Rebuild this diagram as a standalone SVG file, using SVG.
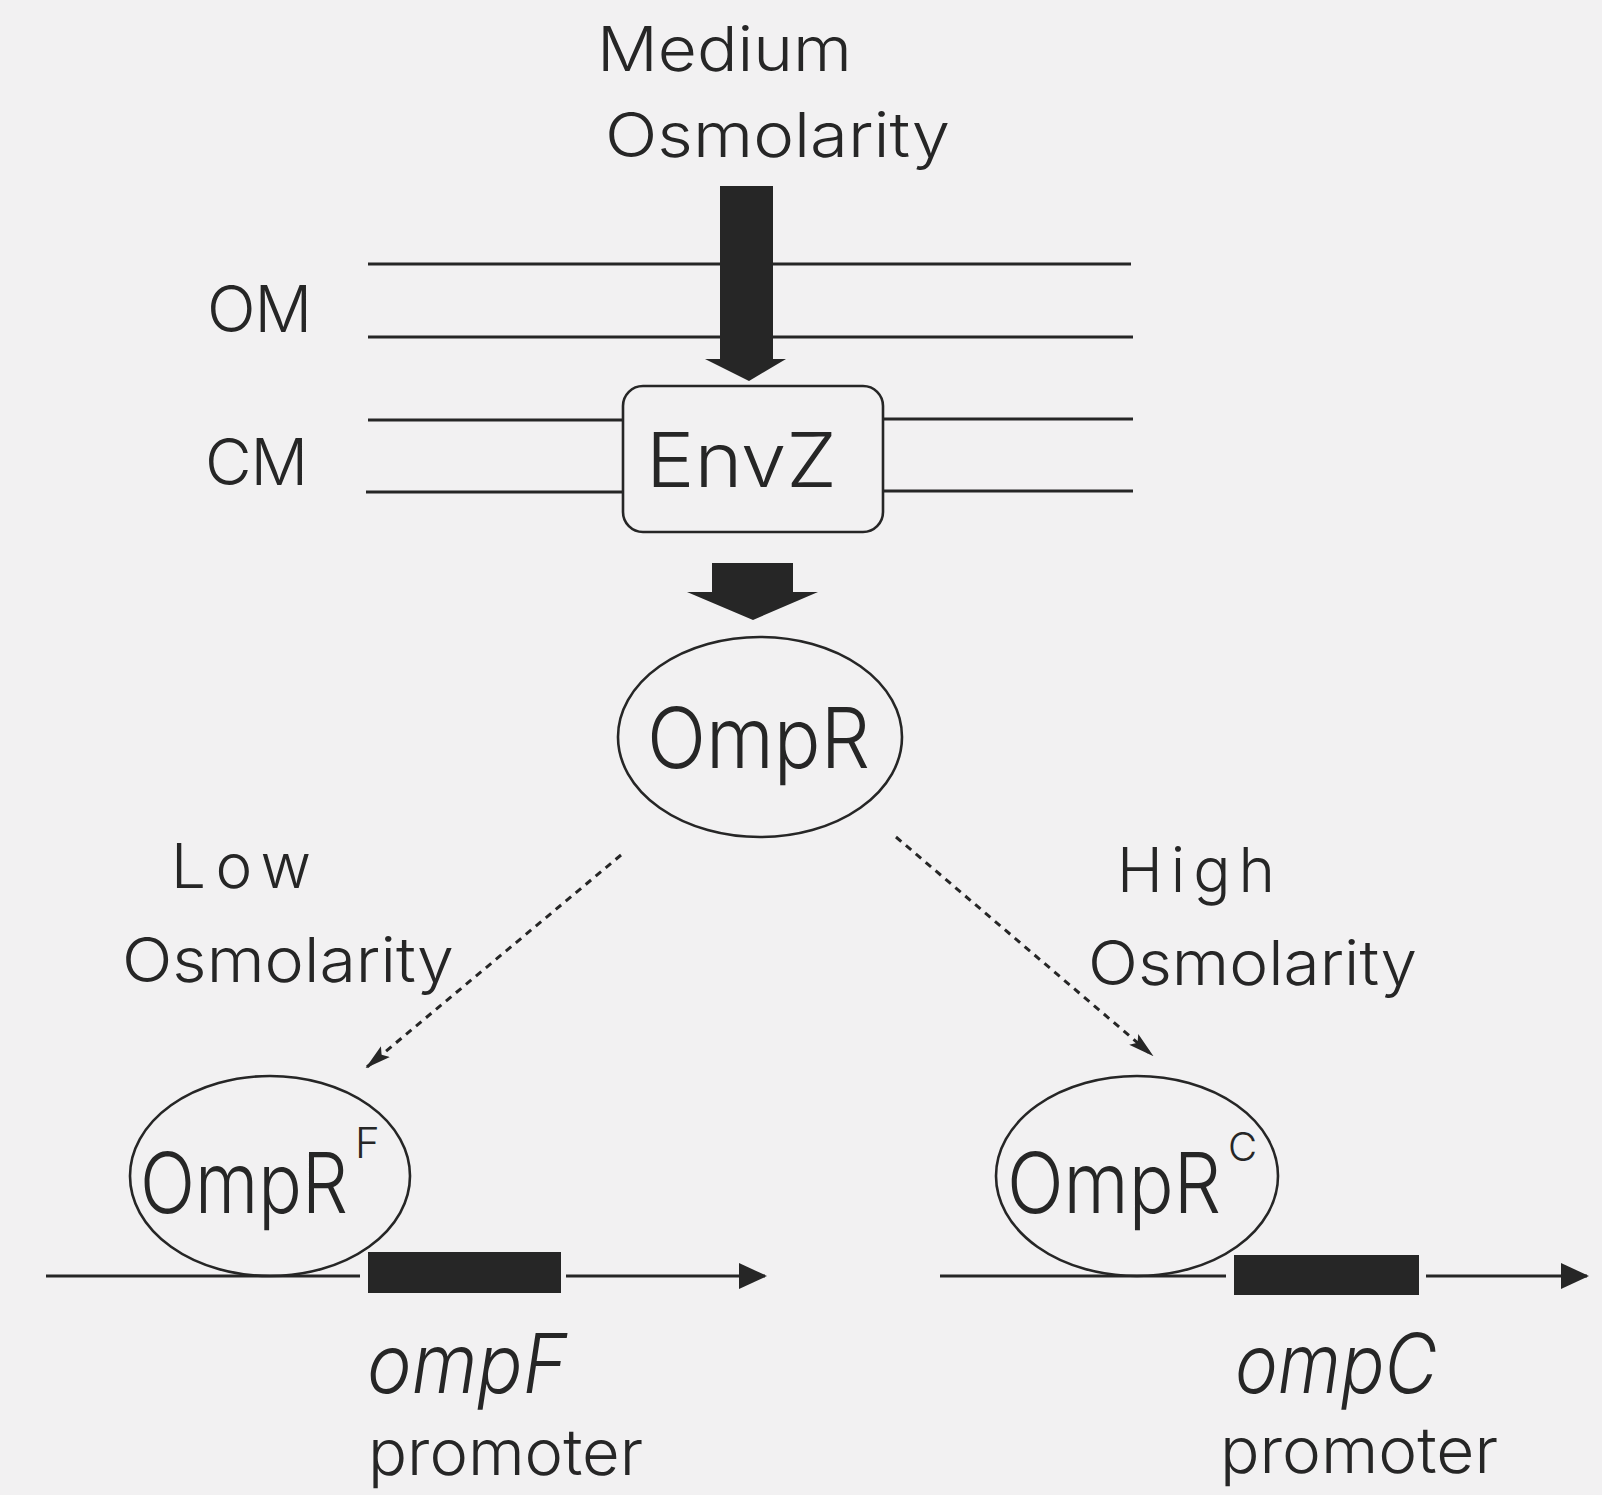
<svg xmlns="http://www.w3.org/2000/svg" width="1602" height="1495" viewBox="0 0 1602 1495">
<style>
.t{font-family:Inter,"Liberation Sans","DejaVu Sans",sans-serif;font-weight:300;fill:#262626}
.ln{stroke:#262626;stroke-width:3.2;fill:none}
.sh{fill:none;stroke:#262626;stroke-width:2.6}
.blk{fill:#262626}
.dash{stroke:#262626;stroke-width:3;stroke-dasharray:7 6;fill:none}
</style>
<defs>
<marker id="ah" markerWidth="28" markerHeight="28" refX="26" refY="14" orient="auto" markerUnits="userSpaceOnUse">
<path d="M0,1 L28,14 L0,27 Z" fill="#262626"/>
</marker>
<marker id="dh" markerWidth="26" markerHeight="16" refX="24" refY="8" orient="auto" markerUnits="userSpaceOnUse">
<path d="M0,1 L26,8 L0,15 L5,8 Z" fill="#262626"/>
</marker>
</defs>
<rect width="1602" height="1495" fill="#f2f1f2"/>

<g id="labels">
<text class="t" x="597" y="71" font-size="62" textLength="255" lengthAdjust="spacingAndGlyphs">Medium</text>
<text class="t" x="605" y="157" font-size="62" textLength="345" lengthAdjust="spacingAndGlyphs">Osmolarity</text>
<text class="t" x="207" y="332" font-size="64" textLength="105" lengthAdjust="spacing">OM</text>
<text class="t" x="205" y="485" font-size="64" textLength="103" lengthAdjust="spacing">CM</text>
<text class="t" x="171" y="888" font-size="62" textLength="140" lengthAdjust="spacing">Low</text>
<text class="t" x="122" y="982" font-size="62" textLength="332" lengthAdjust="spacingAndGlyphs">Osmolarity</text>
<text class="t" x="1117" y="892" font-size="62" textLength="158" lengthAdjust="spacing">High</text>
<text class="t" x="1088" y="985" font-size="62" textLength="329" lengthAdjust="spacingAndGlyphs">Osmolarity</text>
</g>

<g id="membranes">
<line class="ln" x1="368" y1="264" x2="1131" y2="264"/>
<line class="ln" x1="368" y1="337" x2="1133" y2="337"/>
<line class="ln" x1="368" y1="420" x2="623" y2="420"/>
<line class="ln" x1="883" y1="419" x2="1133" y2="419"/>
<line class="ln" x1="366" y1="492" x2="623" y2="492"/>
<line class="ln" x1="883" y1="491" x2="1133" y2="491"/>
</g>

<g id="connectors">
<polygon class="blk" points="720,186 773,186 773,359 786,359 749,381 705,359 720,359"/>
<polygon class="blk" points="712,563 793,563 793,592 818,592 753,620 687,592 712,592"/>
<line class="dash" x1="621" y1="855" x2="367" y2="1067" marker-end="url(#dh)"/>
<line class="dash" x1="896" y1="837" x2="1152" y2="1055" marker-end="url(#dh)"/>
</g>

<g id="envz">
<rect class="sh" x="623" y="386" width="260" height="146" rx="20" ry="20"/>
<text class="t" x="646" y="487" font-size="76" textLength="191" lengthAdjust="spacingAndGlyphs">EnvZ</text>
</g>

<g id="ompr">
<ellipse class="sh" cx="760" cy="737" rx="142" ry="100"/>
<text class="t" x="647" y="768" font-size="84" textLength="223" lengthAdjust="spacingAndGlyphs">OmpR</text>
</g>

<g id="ompf-gene">
<line class="ln" x1="46" y1="1276" x2="360" y2="1276"/>
<rect class="blk" x="368" y="1252" width="193" height="41"/>
<line class="ln" x1="566" y1="1276" x2="765" y2="1276" marker-end="url(#ah)"/>
<text class="t" x="367" y="1393" font-size="82" font-style="italic" textLength="200" lengthAdjust="spacingAndGlyphs">ompF</text>
<text class="t" x="368" y="1475" font-size="64" textLength="275" lengthAdjust="spacingAndGlyphs">promoter</text>
</g>

<g id="omprf">
<ellipse class="sh" cx="270" cy="1176" rx="140" ry="100"/>
<text class="t" x="140" y="1213" font-size="84"><tspan textLength="208" lengthAdjust="spacingAndGlyphs">OmpR</tspan><tspan dx="7" dy="-55" font-size="42">F</tspan></text>
</g>

<g id="ompc-gene">
<line class="ln" x1="940" y1="1276" x2="1226" y2="1276"/>
<rect class="blk" x="1234" y="1255" width="185" height="40"/>
<line class="ln" x1="1426" y1="1276" x2="1587" y2="1276" marker-end="url(#ah)"/>
<text class="t" x="1235" y="1393" font-size="82" font-style="italic" textLength="202" lengthAdjust="spacingAndGlyphs">ompC</text>
<text class="t" x="1220" y="1473" font-size="64" textLength="278" lengthAdjust="spacingAndGlyphs">promoter</text>
</g>

<g id="omprc">
<ellipse class="sh" cx="1137" cy="1176" rx="141" ry="100"/>
<text class="t" x="1007" y="1213" font-size="84"><tspan textLength="214" lengthAdjust="spacingAndGlyphs">OmpR</tspan><tspan dx="7" dy="-52" font-size="40">C</tspan></text>
</g>
</svg>
